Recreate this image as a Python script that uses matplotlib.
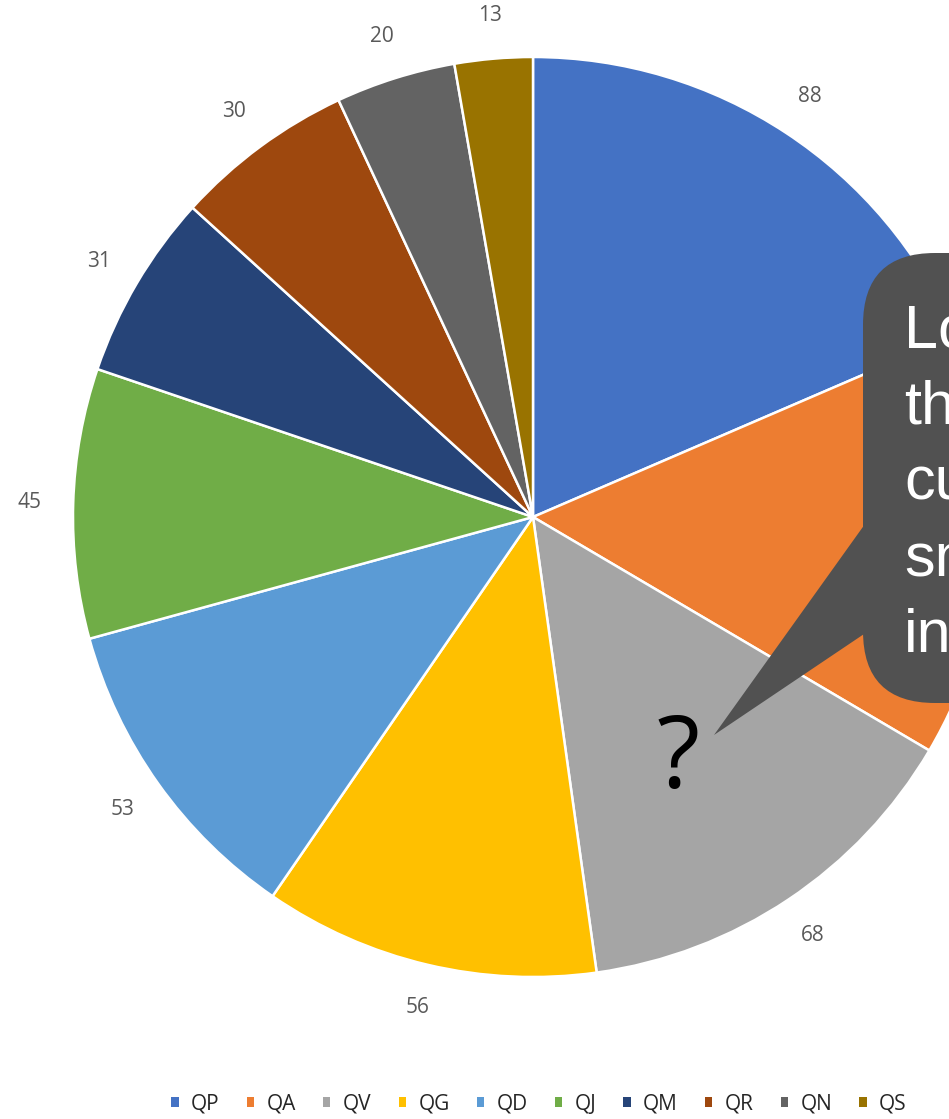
import matplotlib
matplotlib.use('Agg')
import matplotlib.pyplot as plt
from matplotlib.patches import FancyBboxPatch, Polygon, Patch

names = ['QP', 'QA', 'QV', 'QG', 'QD', 'QJ', 'QM', 'QR', 'QN', 'QS']
values = [88, 71, 68, 56, 53, 45, 31, 30, 20, 13]
colors = ['#4472C4', '#ED7D31', '#A5A5A5', '#FFC000', '#5B9BD5',
          '#70AD47', '#264478', '#9E480E', '#636363', '#997300']
callout_lines = ['Look', 'the', 'cut', 'small', 'in']

W, H = 949, 1119
fig = plt.figure(figsize=(W / 100, H / 100), dpi=100)

# pie centre / radius in pixels
cx, cy, r = 533, 517, 460
ax = fig.add_axes([(cx - r) / W, (H - cy - r) / H, 2 * r / W, 2 * r / H])
wedges, texts = ax.pie(values, labels=[str(v) for v in values], colors=colors,
                       startangle=90, counterclock=False, labeldistance=1.095,
                       wedgeprops=dict(edgecolor='white', linewidth=1.8),
                       textprops=dict(color='#595959', fontsize=15, family='Open Sans'))
for t in texts:
    t.set_ha('center')
    t.set_va('center')
ax.set_xlim(-1, 1)
ax.set_ylim(-1, 1)
ax.set_aspect('equal')
ax.axis('off')

handles = [Patch(facecolor=c, edgecolor='none') for c in colors]
fig.legend(handles, names, loc='center', bbox_to_anchor=(539 / W, 1 - 1104 / H), ncol=10,
           frameon=False, handlelength=0.35, handleheight=0.35, handletextpad=0.6,
           columnspacing=1.3, borderpad=0, labelcolor='#262626',
           prop=dict(family='Open Sans', size=15))

# overlay in pixel coords for the callout
ov = fig.add_axes([0, 0, 1, 1], zorder=5)
ov.set_xlim(0, W)
ov.set_ylim(H, 0)
ov.axis('off')
ov.patch.set_alpha(0)

box = FancyBboxPatch((863, 253), 250, 450, boxstyle='round,pad=0,rounding_size=72',
                     facecolor='#515151', edgecolor='none')
ov.add_patch(box)
ov.add_patch(Polygon([(870, 517), (714, 735), (870, 630)], closed=True,
                     facecolor='#515151', edgecolor='none'))
for i, t in enumerate(callout_lines):
    ov.text(904, 348 + i * 76, t, color='white', fontsize=44, family='Liberation Sans',
            ha='left', va='baseline')

ov.text(678, 762, '?', color='black', fontsize=72, family='Open Sans', ha='center', va='center')

fig.savefig('out.png', dpi=100)
